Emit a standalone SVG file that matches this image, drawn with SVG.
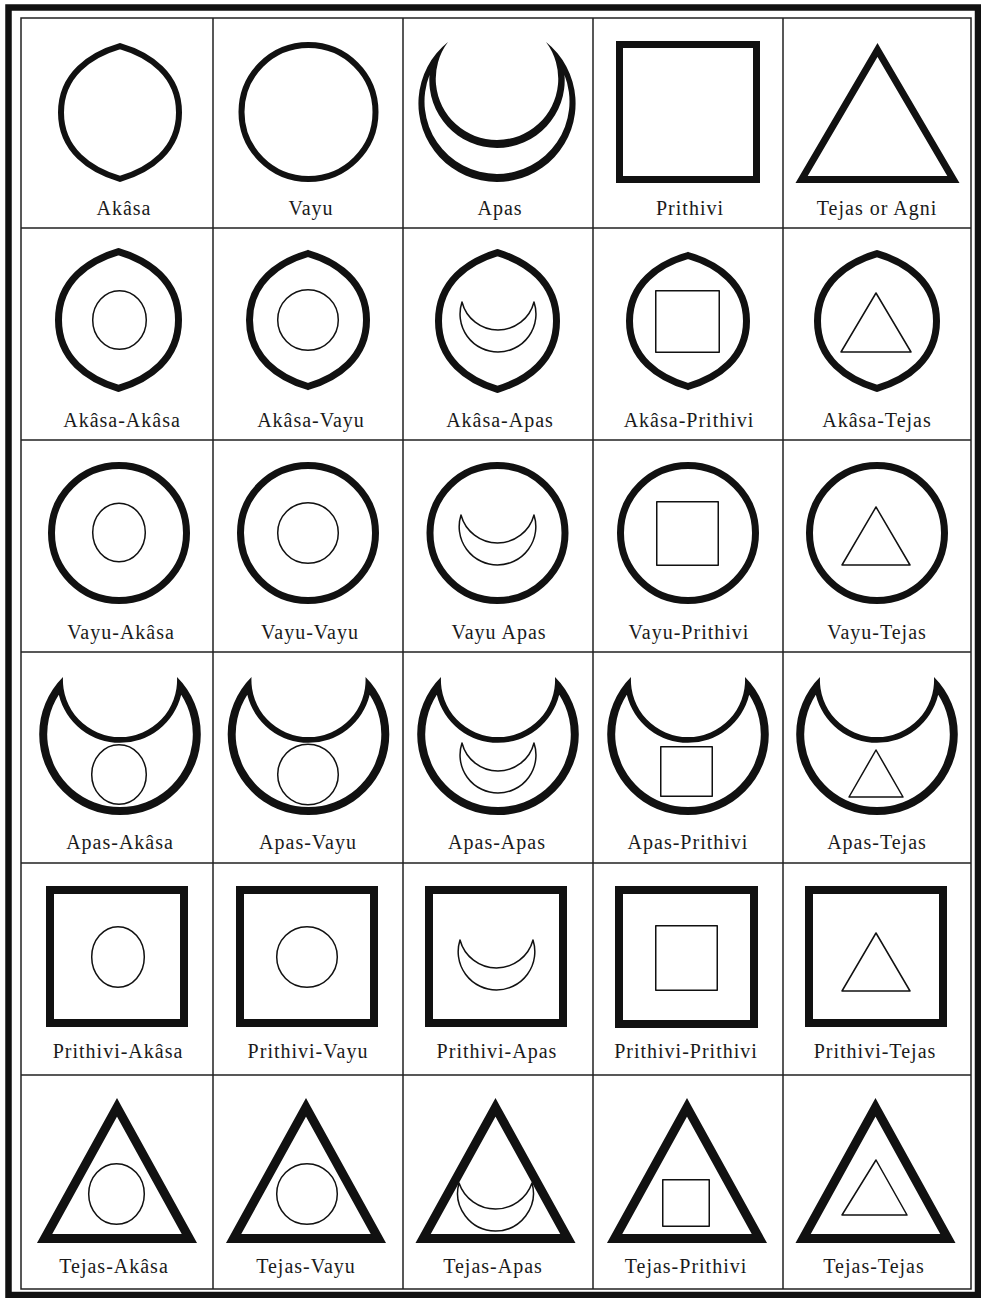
<svg xmlns="http://www.w3.org/2000/svg" width="981" height="1298" viewBox="0 0 981 1298">
<style>
.frame{fill:none;stroke:#111;stroke-width:6.5}
.grid{fill:none;stroke:#222;stroke-width:1.5}
.k6{fill:none;stroke:#111;stroke-width:6}
.k7{fill:none;stroke:#111;stroke-width:7}
.k8{fill:none;stroke:#111;stroke-width:8}
.k9{fill:none;stroke:#111;stroke-width:9}
.fk{fill:#111;fill-rule:evenodd;stroke:none}
.thin{fill:none;stroke:#111;stroke-width:1.5;stroke-linejoin:round}
.lbl{font-family:"Liberation Serif","Times New Roman",serif;font-size:20px;letter-spacing:1px;text-anchor:middle;fill:#1a1a1a}
</style>
<rect x="0" y="0" width="981" height="1298" fill="#fff"/>
<g id="frame">
<rect class="frame" x="8.5" y="7.5" width="969.5" height="1287.5"/>
<rect class="grid" x="21" y="18" width="950" height="1271"/>
<path class="grid" d="M213,18V1289M403,18V1289M593,18V1289M783,18V1289M21,228H971M21,440H971M21,652H971M21,863H971M21,1075H971"/>
</g>
<!-- Row 1 -->
<g id="akasa">
<path class="k6" d="M120,46.1 c29.5,8.63 59,28.55 59,66.4 c0,37.85 -29.5,57.77 -59,66.4 c-29.5,-8.63 -59,-28.55 -59,-66.4 c0,-37.85 29.5,-57.77 59,-66.4z"/>
<text class="lbl" x="124" y="215">Akâsa</text>
</g>
<g id="vayu">
<circle class="k6" cx="308.5" cy="112" r="67"/>
<text class="lbl" x="311" y="215">Vayu</text>
</g>
<g id="apas">
<path class="fk" d="M448,42 A78.58,78.58 0 1 0 546,42 A61.25,61.25 0 1 1 448,42 Z M429.5,75 A72.5,72.5 0 1 0 564.5,75 A67.7,67.7 0 1 1 429.5,75 Z"/>
<text class="lbl" x="500" y="215">Apas</text>
</g>
<g id="prithivi">
<rect class="k7" x="619.5" y="44.5" width="137" height="135"/>
<text class="lbl" x="690" y="215">Prithivi</text>
</g>
<g id="tejas">
<path class="k7" d="M877.5,49.9 L953.4,179.5 L801.6,179.5 Z"/>
<text class="lbl" x="877" y="215">Tejas or Agni</text>
</g>
<!-- Row 2 -->
<g id="akasa-akasa">
<path class="k7" d="M118.5,251.7 c30,8.88 60,29.37 60,68.3 c0,38.93 -30,59.42 -60,68.3 c-30,-8.88 -60,-29.37 -60,-68.3 c0,-38.93 30,-59.42 60,-68.3z"/>
<ellipse class="thin" cx="119.5" cy="320" rx="26.8" ry="29.3"/>
<text class="lbl" x="122" y="427">Akâsa-Akâsa</text>
</g>
<g id="akasa-vayu">
<path class="k7" d="M308,253.5 c29.25,8.65 58.5,28.6 58.5,66.5 c0,37.9 -29.25,57.86 -58.5,66.5 c-29.25,-8.65 -58.5,-28.6 -58.5,-66.5 c0,-37.9 29.25,-57.86 58.5,-66.5z"/>
<circle class="thin" cx="308" cy="320" r="30.3"/>
<text class="lbl" x="311" y="427">Akâsa-Vayu</text>
</g>
<g id="akasa-apas">
<path class="k7" d="M497.5,252.7 c29.5,8.88 59,29.37 59,68.3 c0,38.93 -29.5,59.42 -59,68.3 c-29.5,-8.88 -59,-29.37 -59,-68.3 c0,-38.93 29.5,-59.42 59,-68.3z"/>
<path class="thin" d="M462,302 A37.96,37.96 0 1 0 534,302 A37.14,37.14 0 0 1 462,302 Z"/>
<text class="lbl" x="500" y="427">Akâsa-Apas</text>
</g>
<g id="akasa-prithivi">
<path class="k7" d="M688,255.5 c29.25,8.52 58.5,28.17 58.5,65.5 c0,37.34 -29.25,56.99 -58.5,65.5 c-29.25,-8.52 -58.5,-28.17 -58.5,-65.5 c0,-37.34 29.25,-56.99 58.5,-65.5z"/>
<rect class="thin" x="655.75" y="290.75" width="63.5" height="61.5"/>
<text class="lbl" x="689" y="427">Akâsa-Prithivi</text>
</g>
<g id="akasa-tejas">
<path class="k7" d="M877,253.7 c29.75,8.75 59.5,28.94 59.5,67.3 c0,38.36 -29.75,58.55 -59.5,67.3 c-29.75,-8.75 -59.5,-28.94 -59.5,-67.3 c0,-38.36 29.75,-58.55 59.5,-67.3z"/>
<path class="thin" d="M876,293 L911,352 L841,352 Z"/>
<text class="lbl" x="877" y="427">Akâsa-Tejas</text>
</g>
<!-- Row 3 -->
<g id="vayu-akasa">
<circle class="k7" cx="119" cy="533" r="67.5"/>
<ellipse class="thin" cx="119" cy="532.5" rx="26.3" ry="29.3"/>
<text class="lbl" x="121" y="639">Vayu-Akâsa</text>
</g>
<g id="vayu-vayu">
<circle class="k7" cx="308" cy="533" r="67.5"/>
<circle class="thin" cx="308" cy="533" r="30.3"/>
<text class="lbl" x="310" y="639">Vayu-Vayu</text>
</g>
<g id="vayu-apas">
<circle class="k7" cx="497.5" cy="533" r="67.5"/>
<path class="thin" d="M461,515 A38.32,38.32 0 1 0 534,515 A37.79,37.79 0 0 1 461,515 Z"/>
<text class="lbl" x="499" y="639">Vayu Apas</text>
</g>
<g id="vayu-prithivi">
<circle class="k7" cx="688" cy="533" r="67.5"/>
<rect class="thin" x="656.75" y="501.75" width="61.5" height="63.5"/>
<text class="lbl" x="689" y="639">Vayu-Prithivi</text>
</g>
<g id="vayu-tejas">
<circle class="k7" cx="877" cy="533" r="67.5"/>
<path class="thin" d="M876,507 L910,565 L842,565 Z"/>
<text class="lbl" x="877" y="639">Vayu-Tejas</text>
</g>
<!-- Row 4 -->
<g id="apas-akasa">
<path class="fk" d="M63,677 A80.8,80.8 0 1 0 177,677 A57.08,57.08 0 1 1 63,677 Z M58.8,694.8 A72.8,72.8 0 1 0 181.2,694.8 A63,63 0 0 1 58.8,694.8 Z"/>
<ellipse class="thin" cx="119" cy="774.5" rx="27.3" ry="29.8"/>
<text class="lbl" x="120" y="849">Apas-Akâsa</text>
</g>
<g id="apas-vayu">
<path class="fk" d="M251.5,677 A80.8,80.8 0 1 0 365.5,677 A57.08,57.08 0 1 1 251.5,677 Z M247.3,694.8 A72.8,72.8 0 1 0 369.7,694.8 A63,63 0 0 1 247.3,694.8 Z"/>
<circle class="thin" cx="308" cy="774.5" r="30.3"/>
<text class="lbl" x="308" y="849">Apas-Vayu</text>
</g>
<g id="apas-apas">
<path class="fk" d="M441,677 A80.8,80.8 0 1 0 555,677 A57.08,57.08 0 1 1 441,677 Z M436.8,694.8 A72.8,72.8 0 1 0 559.2,694.8 A63,63 0 0 1 436.8,694.8 Z"/>
<path class="thin" d="M462,743 A37.96,37.96 0 1 0 534,743 A37.14,37.14 0 0 1 462,743 Z"/>
<text class="lbl" x="497" y="849">Apas-Apas</text>
</g>
<g id="apas-prithivi">
<path class="fk" d="M631,677 A80.8,80.8 0 1 0 745,677 A57.08,57.08 0 1 1 631,677 Z M626.8,694.8 A72.8,72.8 0 1 0 749.2,694.8 A63,63 0 0 1 626.8,694.8 Z"/>
<rect class="thin" x="660.75" y="746.75" width="51.5" height="49.5"/>
<text class="lbl" x="688" y="849">Apas-Prithivi</text>
</g>
<g id="apas-tejas">
<path class="fk" d="M820,677 A80.8,80.8 0 1 0 934,677 A57.08,57.08 0 1 1 820,677 Z M815.8,694.8 A72.8,72.8 0 1 0 938.2,694.8 A63,63 0 0 1 815.8,694.8 Z"/>
<path class="thin" d="M876,750 L903,797 L849,797 Z"/>
<text class="lbl" x="877" y="849">Apas-Tejas</text>
</g>
<!-- Row 5 -->
<g id="prithivi-akasa">
<rect class="k8" x="50" y="890" width="134" height="133"/>
<ellipse class="thin" cx="118" cy="957" rx="26.3" ry="30.3"/>
<text class="lbl" x="118" y="1058">Prithivi-Akâsa</text>
</g>
<g id="prithivi-vayu">
<rect class="k8" x="240" y="890" width="134" height="133"/>
<circle class="thin" cx="307" cy="957" r="30.3"/>
<text class="lbl" x="308" y="1058">Prithivi-Vayu</text>
</g>
<g id="prithivi-apas">
<rect class="k8" x="429" y="890" width="134" height="133"/>
<path class="thin" d="M460,940 A38.32,38.32 0 1 0 533,940 A37.79,37.79 0 0 1 460,940 Z"/>
<text class="lbl" x="497" y="1058">Prithivi-Apas</text>
</g>
<g id="prithivi-prithivi">
<rect class="k8" x="619" y="890" width="135" height="134"/>
<rect class="thin" x="655.75" y="925.75" width="61.5" height="64.5"/>
<text class="lbl" x="686" y="1058">Prithivi-Prithivi</text>
</g>
<g id="prithivi-tejas">
<rect class="k8" x="809" y="890" width="134" height="133"/>
<path class="thin" d="M876,933 L910,991 L842,991 Z"/>
<text class="lbl" x="875" y="1058">Prithivi-Tejas</text>
</g>
<!-- Row 6 -->
<g id="tejas-akasa">
<path class="k9" d="M117,1107.3 L189.4,1238.5 L44.6,1238.5 Z"/>
<ellipse class="thin" cx="116.5" cy="1194" rx="27.8" ry="30.3"/>
<text class="lbl" x="114" y="1273">Tejas-Akâsa</text>
</g>
<g id="tejas-vayu">
<path class="k9" d="M306,1107.3 L378.4,1238.5 L233.6,1238.5 Z"/>
<circle class="thin" cx="307" cy="1194" r="30.3"/>
<text class="lbl" x="306" y="1273">Tejas-Vayu</text>
</g>
<g id="tejas-apas">
<path class="k9" d="M495.5,1107.3 L567.9,1238.5 L423.1,1238.5 Z"/>
<path class="thin" d="M459,1183 A37.88,37.88 0 1 0 532,1183 A38.62,38.62 0 0 1 459,1183 Z"/>
<text class="lbl" x="493" y="1273">Tejas-Apas</text>
</g>
<g id="tejas-prithivi">
<path class="k9" d="M687,1107.3 L759.4,1238.5 L614.6,1238.5 Z"/>
<rect class="thin" x="662.75" y="1179.75" width="46.5" height="46.5"/>
<text class="lbl" x="686" y="1273">Tejas-Prithivi</text>
</g>
<g id="tejas-tejas">
<path class="k9" d="M875.5,1107.3 L947.9,1238.5 L803.1,1238.5 Z"/>
<path class="thin" d="M876,1160 L907,1215 L842,1215 Z"/>
<text class="lbl" x="874" y="1273">Tejas-Tejas</text>
</g>
</svg>
